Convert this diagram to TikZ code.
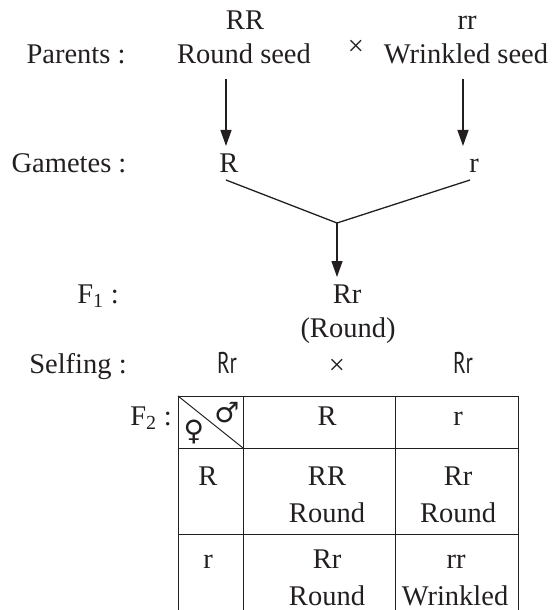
\documentclass[tikz,border=0pt]{standalone}
\usepackage{fontspec}
\setmainfont{Liberation Serif}
\newfontfamily\sansrr{PT Sans}
\newfontfamily\symfont{DejaVu Sans}
\usetikzlibrary{arrows.meta}
\definecolor{ink}{HTML}{231F20}
\begin{document}
\begin{tikzpicture}[x=1bp,y=-1bp,
  txt/.style={anchor=base,inner sep=0pt,text=ink,font=\fontsize{28.5bp}{34bp}\selectfont},
  sanstxt/.style={anchor=base,inner sep=0pt,text=ink,xscale=0.72,font=\sansrr\fontsize{30bp}{34bp}\selectfont},
  symb/.style={anchor=center,inner sep=0pt,text=ink,font=\symfont\fontsize{28bp}{32bp}\selectfont},
  arr/.style={draw=ink,line width=1.3bp,-{Triangle[length=16bp,width=11bp]}},
  ln/.style={draw=ink,line width=1.3bp},
  grid/.style={draw=ink,line width=1bp}]
\useasboundingbox (0,0) rectangle (552,610);
% Parents
\node[txt] (parents) at (76,64) {Parents :};
\node[txt] (RR) at (245,30) {RR};
\node[txt] (rseed) at (244,64) {Round seed};
\node[txt,anchor=center] (cross1) at (356,48) {×};
\node[txt] (rr) at (467,30) {rr};
\node[txt] (wseed) at (466,64) {Wrinkled seed};
% Gametes
\node[txt] (gametes) at (69,173) {Gametes :};
\node[txt] (gR) at (229,173) {R};
\node[txt] (gr) at (474,173) {r};
\coordinate (a1s) at (226,79);
\coordinate (a1e) at (226,146);
\coordinate (a2s) at (463,79);
\coordinate (a2e) at (463,146);
\draw[arr] (a1s) -- (a1e);
\draw[arr] (a2s) -- (a2e);
% Y join
\coordinate (yl) at (226,180);
\coordinate (yr) at (470,180);
\coordinate (yj) at (337,223);
\coordinate (ye) at (337,277);
\draw[ln,line join=miter] (yl) -- (yj) -- (yr);
\draw[arr] (yj) -- (ye);
% F1
\node[txt] (f1) at (98,303) {F\textsubscript{1} :};
\node[txt] (Rr1) at (347,303) {Rr};
\node[txt] (round1) at (348,337) {(Round)};
% Selfing
\node[txt] (selfing) at (78,373) {Selfing :};
\node[sanstxt] (s1) at (227,373) {Rr};
\node[txt,anchor=center] (cross2) at (337,367) {×};
\node[sanstxt] (s2) at (463,373) {Rr};
% F2 table
\node[txt] (f2) at (151,425) {F\textsubscript{2} :};
\draw[grid] (178,396) -- (518,396);
\draw[grid] (178,448) -- (518,448);
\draw[grid] (178,534) -- (518,534);
\draw[grid] (178,396) -- (178,610);
\draw[grid] (243,396) -- (243,610);
\draw[grid] (395,396) -- (395,610);
\draw[grid] (518,396) -- (518,610);
\draw[grid] (178,396) -- (243,448);
\node[symb] (fem) at (194,432) {♀};
\node[symb] (mal) at (227,413) {♂};
\node[txt] (hR) at (327,425) {R};
\node[txt] (hr) at (458,425) {r};
\node[txt] (vR) at (208,485) {R};
\node[txt] (c11a) at (327,485) {RR};
\node[txt] (c11b) at (327,522) {Round};
\node[txt] (c12a) at (458,485) {Rr};
\node[txt] (c12b) at (458,522) {Round};
\node[txt] (vr) at (208,568) {r};
\node[txt] (c21a) at (327,568) {Rr};
\node[txt] (c21b) at (327,605) {Round};
\node[txt] (c22a) at (456,568) {rr};
\node[txt] (c22b) at (455,605) {Wrinkled};
\end{tikzpicture}
\end{document}
